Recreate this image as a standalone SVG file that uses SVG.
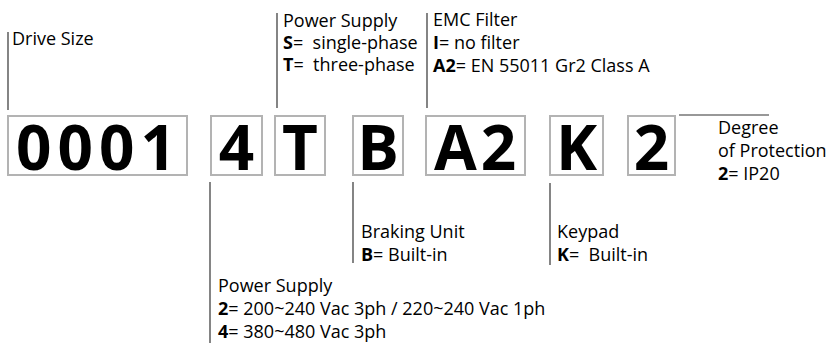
<svg xmlns="http://www.w3.org/2000/svg" width="835" height="343" viewBox="0 0 835 343">
<style>
.box{fill:#fff;stroke:#b3b3b3;stroke-width:2}
.big{font-family:"Open Sans","Noto Sans",sans-serif;font-weight:bold;font-size:62px;fill:#000;text-anchor:middle}
.lbl{font-family:"Open Sans","Noto Sans",sans-serif;font-size:18px;fill:#000}
.b{font-weight:bold}
.ln{stroke:#333;stroke-width:1.2;fill:none}
</style>
<rect width="835" height="343" fill="#fff"/>
<g id="connectors">
<line class="ln" x1="8" y1="32" x2="8" y2="110"/>
<line class="ln" x1="277" y1="13" x2="277" y2="108"/>
<line class="ln" x1="427" y1="13" x2="427" y2="108"/>
<line class="ln" x1="679" y1="115" x2="769" y2="115"/>
<line class="ln" x1="210" y1="182" x2="210" y2="343"/>
<line class="ln" x1="353" y1="182" x2="353" y2="263"/>
<line class="ln" x1="550" y1="183" x2="550" y2="265"/>
</g>
<g id="box-0001"><rect class="box" x="8" y="116" width="179" height="59"/><text class="big" x="99" y="170" letter-spacing="6">0001</text></g>
<g id="box-4"><rect class="box" x="211" y="116" width="51" height="59"/><text class="big" x="236.5" y="170">4</text></g>
<g id="box-T"><rect class="box" x="275" y="116" width="50" height="59"/><text class="big" x="300" y="170">T</text></g>
<g id="box-B"><rect class="box" x="353" y="116" width="50" height="59"/><text class="big" x="378" y="170">B</text></g>
<g id="box-A2"><rect class="box" x="426" y="116" width="99" height="59"/><text class="big" x="477" y="170" letter-spacing="4">A2</text></g>
<g id="box-K"><rect class="box" x="550" y="116" width="53" height="59"/><text class="big" x="576.5" y="170">K</text></g>
<g id="box-2"><rect class="box" x="628" y="116" width="47" height="59"/><text class="big" x="651.5" y="170">2</text></g>
<g id="label-drive-size"><text class="lbl" x="12" y="45">Drive Size</text></g>
<g id="label-power-supply-top"><text class="lbl" x="283" y="27">Power Supply</text>
<text class="lbl" x="283" y="49" xml:space="preserve"><tspan class="b">S</tspan>=  single-phase</text>
<text class="lbl" x="283" y="71" xml:space="preserve"><tspan class="b">T</tspan>=  three-phase</text></g>
<g id="label-emc"><text class="lbl" x="433" y="26">EMC Filter</text>
<text class="lbl" x="433" y="49"><tspan class="b">I</tspan>= no filter</text>
<text class="lbl" x="433" y="72"><tspan class="b">A2</tspan>= EN 55011 Gr2 Class A</text></g>
<g id="label-degree"><text class="lbl" x="718" y="134">Degree</text>
<text class="lbl" x="718" y="157">of Protection</text>
<text class="lbl" x="718" y="180"><tspan class="b">2</tspan>= IP20</text></g>
<g id="label-braking"><text class="lbl" x="361" y="238">Braking Unit</text>
<text class="lbl" x="361" y="261"><tspan class="b">B</tspan>= Built-in</text></g>
<g id="label-keypad"><text class="lbl" x="557" y="238">Keypad</text>
<text class="lbl" x="557" y="261" xml:space="preserve"><tspan class="b">K</tspan>=  Built-in</text></g>
<g id="label-power-supply-bottom"><text class="lbl" x="218" y="292">Power Supply</text>
<text class="lbl" x="218" y="315"><tspan class="b">2</tspan>= 200~240 Vac 3ph / 220~240 Vac 1ph</text>
<text class="lbl" x="218" y="338"><tspan class="b">4</tspan>= 380~480 Vac 3ph</text></g>
</svg>
